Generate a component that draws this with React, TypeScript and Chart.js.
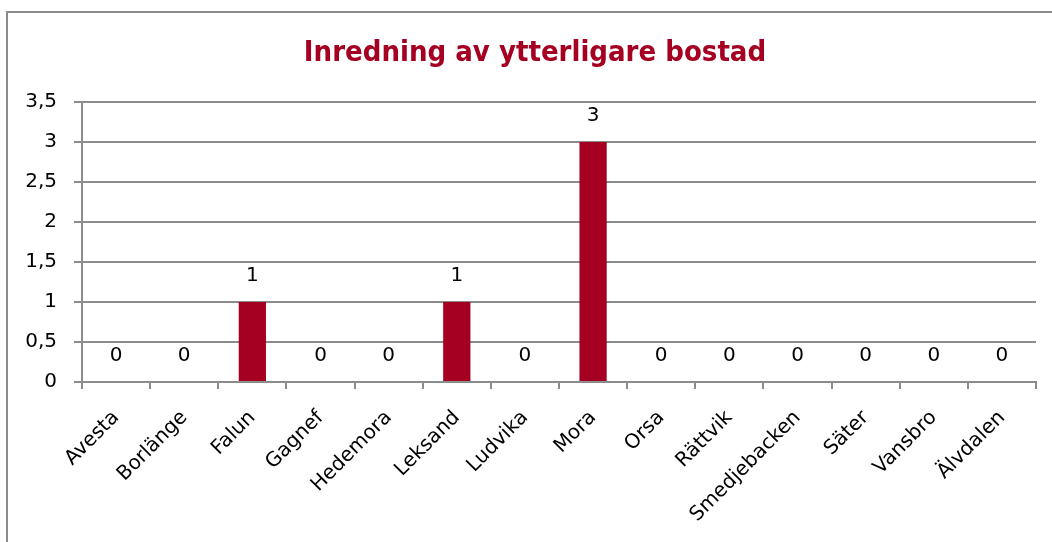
import React, { useEffect, useRef } from "react";
import { Chart, registerables } from "chart.js";

Chart.register(...registerables);

const title = "Inredning av ytterligare bostad";
const categories = [
  "Avesta", "Borlänge", "Falun", "Gagnef", "Hedemora", "Leksand", "Ludvika",
  "Mora", "Orsa", "Rättvik", "Smedjebacken", "Säter", "Vansbro", "Älvdalen",
];
const values = [0, 0, 1, 0, 0, 1, 0, 3, 0, 0, 0, 0, 0, 0];
const yMin = 0;
const yMax = 3.5;
const yStep = 0.5;

const BAR = "#A50021";
const GRID = "#8c8c8c";
const FONT = "'DejaVu Sans', sans-serif";
const TITLE_FONT = "bold 29px 'DejaVu Sans Condensed', 'DejaVu Sans', sans-serif";

const frame = {
  id: "frame",
  beforeDraw(chart: any) {
    const ctx = chart.ctx;
    ctx.save();
    ctx.fillStyle = "#fff";
    ctx.fillRect(0, 0, chart.width, chart.height);
    ctx.strokeStyle = GRID;
    ctx.lineWidth = 2;
    ctx.strokeRect(7, 12, 1200, 1000);
    ctx.font = TITLE_FONT;
    ctx.fillStyle = BAR;
    ctx.textAlign = "center";
    ctx.textBaseline = "alphabetic";
    ctx.fillText(title, 535, 61);
    ctx.restore();
  },
};

const valueLabels = {
  id: "valueLabels",
  afterDatasetsDraw(chart: any) {
    const ctx = chart.ctx;
    const meta = chart.getDatasetMeta(0);
    ctx.save();
    ctx.font = `20px ${FONT}`;
    ctx.fillStyle = "#000";
    ctx.textAlign = "center";
    ctx.textBaseline = "middle";
    meta.data.forEach((el: any, i: number) => {
      const v = chart.data.datasets[0].data[i];
      ctx.fillText(String(v).replace(".", ","), el.x, el.y - 26);
    });
    ctx.restore();
  },
};

export default function App() {
  const ref = useRef<HTMLCanvasElement>(null);
  useEffect(() => {
    if (!ref.current) return;
    const chart = new Chart(ref.current, {
      type: "bar",
      data: {
        labels: categories,
        datasets: [
          {
            data: values,
            backgroundColor: BAR,
            borderWidth: 0,
            barPercentage: 0.4,
            categoryPercentage: 1,
          },
        ],
      },
      plugins: [frame, valueLabels],
      options: {
        animation: false,
        responsive: false,
        maintainAspectRatio: false,
        layout: { padding: { left: 6, right: 16, top: 102, bottom: 0 } },
        plugins: {
          legend: { display: false },
          tooltip: { enabled: false },
          title: { display: false },
        },
        scales: {
          x: {
            offset: true,
            grid: {
              display: true,
              drawOnChartArea: false,
              drawTicks: true,
              tickLength: 7,
              color: GRID,
              lineWidth: 2,
              offset: true,
            },
            border: { display: true, color: GRID, width: 2 },
            ticks: {
              minRotation: 45,
              maxRotation: 45,
              autoSkip: false,
              padding: 17,
              color: "#000",
              font: { family: FONT, size: 20 },
            },
            afterFit: (s: any) => {
              s.height = 160;
            },
          },
          y: {
            min: yMin,
            max: yMax,
            ticks: {
              stepSize: yStep,
              padding: 17,
              color: "#000",
              font: { family: FONT, size: 20 },
              callback: (v: any) => String(v).replace(".", ","),
            },
            grid: {
              color: GRID,
              lineWidth: 2,
              tickLength: 8,
              drawTicks: true,
            },
            border: { display: true, color: GRID, width: 2 },
            afterFit: (s: any) => {
              s.width = 76;
            },
          },
        },
      },
    });
    return () => chart.destroy();
  }, []);
  return (
    <div style={{ position: "absolute", left: 0, top: 0, width: 1052, height: 542 }}>
      <canvas ref={ref} width={1052} height={542} style={{ width: 1052, height: 542 }} />
    </div>
  );
}
